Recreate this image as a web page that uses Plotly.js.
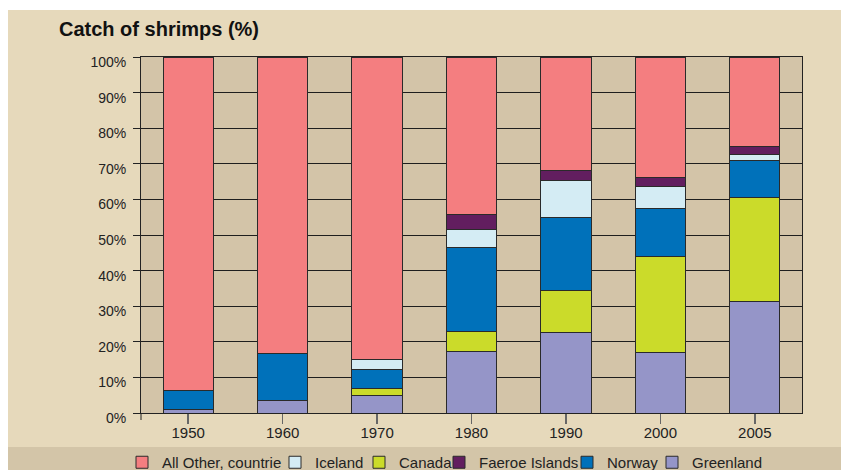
<!DOCTYPE html>
<html>
<head>
<meta charset="utf-8">
<script src="https://cdn.plot.ly/plotly-3.0.1.min.js"></script>
<style>html,body{margin:0;padding:0;background:#fff;}#chart{width:841px;height:470px;}</style>
</head>
<body>
<div id="chart"></div>
<script>
const years = ['1950', '1960', '1970', '1980', '1990', '2000', '2005'];
const greenland = [1.0, 3.6, 5.0, 17.3, 22.7, 17.0, 31.4];
const canada    = [0.0, 0.0, 1.9, 5.6, 11.7, 27.0, 29.1];
const norway    = [5.2, 13.0, 5.3, 23.6, 20.5, 13.5, 10.3];
const iceland   = [0.0, 0.0, 2.8, 5.0, 10.4, 6.1, 1.8];
const faeroe    = [0.0, 0.0, 0.0, 4.3, 2.9, 2.6, 2.3];
const allOther  = [93.8, 83.4, 85.0, 44.2, 31.8, 33.8, 25.1];
const yTicks = [0, 10, 20, 30, 40, 50, 60, 70, 80, 90, 100];

const FONT = 'Liberation Sans, Arial, sans-serif';
const line = {color: '#2a2a2a', width: 1};

// legend entry left edge (px) in the reference, one legend box per entry
const legendLeft = {legend: 143, legend2: 296, legend3: 380, legend4: 460, legend5: 588, legend6: 673};

function bar(name, vals, color, legendId) {
  return {type: 'bar', name: name, x: years, y: vals, legend: legendId, showlegend: true,
          marker: {color: color, line: line}, hoverinfo: 'name+y'};
}

const data = [
  bar('Greenland', greenland, '#9595C8', 'legend6'),
  bar('Canada', canada, '#CBDB2A', 'legend3'),
  bar('Norway', norway, '#0071BA', 'legend5'),
  bar('Iceland', iceland, '#D4ECF4', 'legend2'),
  bar('Faeroe Islands', faeroe, '#621E5F', 'legend4'),
  bar('All Other, countrie', allOther, '#F47E80', 'legend')
];

const layout = {
  width: 841, height: 470,
  margin: {l: 141, r: 39, t: 57, b: 57},
  showlegend: true,
  paper_bgcolor: '#E6D9BB',
  plot_bgcolor: '#D3C4A8',
  barmode: 'stack',
  bargap: 0.467,
  font: {family: FONT, color: '#222'},
  title: {text: 'Catch of shrimps (%)', font: {family: FONT, size: 20, weight: 'bold', color: '#111'},
          xref: 'container', yref: 'container', x: 59/841, xanchor: 'left', y: 1 - 29/470, yanchor: 'middle'},
  xaxis: {type: 'category', showline: true, linecolor: '#222', linewidth: 1, mirror: true,
          ticks: 'outside', ticklen: 10, tickcolor: '#666', tickwidth: 1.5, ticklabelstandoff: -4,
          tickfont: {size: 15, color: '#222'}, showgrid: false, zeroline: false, fixedrange: true},
  yaxis: {range: [0, 100], tickvals: yTicks, ticktext: yTicks.map(v => v + '%'),
          showline: true, linecolor: '#222', linewidth: 1, mirror: true,
          ticks: 'outside', ticklen: 7, tickcolor: '#222',
          tickfont: {size: 14, color: '#222'}, ticklabelshift: 5, ticklabelstandoff: 4,
          showgrid: true, gridcolor: '#1e1e1e', gridwidth: 1, zeroline: false, fixedrange: true},
  shapes: [
    {type: 'rect', xref: 'paper', yref: 'paper', layer: 'below',
     x0: (0 - 141)/661, x1: (8 - 141)/661, y0: (413 - 480)/356, y1: (413 + 10)/356,
     fillcolor: '#FFFFFF', line: {width: 0}},
    {type: 'rect', xref: 'paper', yref: 'paper', layer: 'below',
     x0: (0 - 141)/661, x1: (850 - 141)/661, y0: (413 - 10)/356, y1: (413 + 10)/356,
     fillcolor: '#FFFFFF', line: {width: 0}},
    {type: 'rect', xref: 'paper', yref: 'paper', layer: 'below',
     x0: (8 - 141)/661, x1: (850 - 141)/661, y0: (413 - 480)/356, y1: (413 - 447)/356,
     fillcolor: '#D3C5A8', line: {width: 0}},
    {type: 'line', xref: 'paper', yref: 'paper', x0: 0, x1: 0, y0: 0, y1: -7/356,
     line: {color: '#222', width: 1}}
  ]
};

Object.keys(legendLeft).forEach(function (id) {
  layout[id] = {orientation: 'h', x: (legendLeft[id] - 21 - 141)/661, xanchor: 'left',
                yref: 'container', y: 1 - 462.5/470, yanchor: 'middle',
                font: {size: 15, color: '#222'}, bgcolor: 'rgba(0,0,0,0)', visible: true,
                itemclick: false, itemdoubleclick: false};
});

Plotly.newPlot('chart', data, layout, {displayModeBar: false, staticPlot: true});
</script>
</body>
</html>
